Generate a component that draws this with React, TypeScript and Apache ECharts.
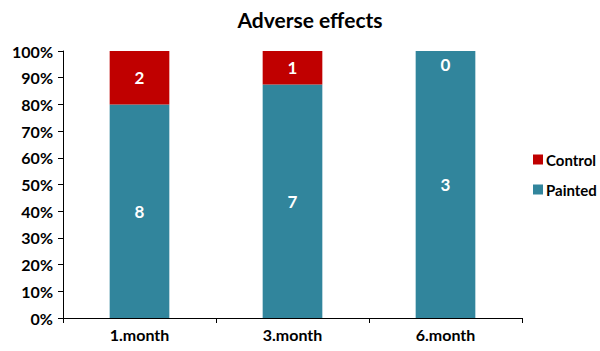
import React, { useEffect, useRef } from "react";
import * as echarts from "echarts";

const categories = ["1.month", "3.month", "6.month"];
const paintedCounts = [8, 7, 3];
const controlCounts = [2, 1, 0];
const yTicks = [0, 10, 20, 30, 40, 50, 60, 70, 80, 90, 100];

const FONT = "Lato, 'Open Sans', sans-serif";

export default function App() {
  const ref = useRef<HTMLDivElement>(null);

  useEffect(() => {
    if (!ref.current) return;
    const chart = echarts.init(ref.current, undefined, { renderer: "svg" });

    const totals = categories.map((_, i) => paintedCounts[i] + controlCounts[i]);
    const pct = (arr: number[]) => arr.map((v, i) => (v / totals[i]) * 100);
    const paintedPct = pct(paintedCounts);
    const controlPct = pct(controlCounts);

    const labelBase = {
      show: true,
      color: "#ffffff",
      fontFamily: FONT,
      fontWeight: "bold" as const,
      fontSize: 17,
    };

    chart.setOption({
      animation: false,
      backgroundColor: "#ffffff",
      title: {
        text: "Adverse effects",
        left: 305,
        textAlign: "center",
        top: 4,
        textStyle: { fontFamily: FONT, fontWeight: "bold", fontSize: 21, color: "#000" },
      },
      legend: {
        orient: "vertical",
        left: 528,
        top: 147,
        itemWidth: 10,
        itemHeight: 10,
        itemGap: 15,
        itemStyle: { borderWidth: 0 },
        icon: "rect",
        data: ["Control", "Painted"],
        textStyle: { fontFamily: FONT, fontWeight: "bold", fontSize: 15, color: "#000", padding: [0, 0, 0, -2] },
      },
      grid: { left: 63, right: 78, top: 51, bottom: 33 },
      xAxis: {
        type: "category",
        data: categories,
        axisLine: { lineStyle: { color: "#000" } },
        axisTick: { show: true, length: 5, lineStyle: { color: "#000" } },
        axisLabel: {
          fontFamily: FONT,
          fontWeight: "bold",
          fontSize: 16,
          color: "#000",
          margin: 8,
        },
      },
      yAxis: {
        type: "value",
        min: yTicks[0],
        max: yTicks[yTicks.length - 1],
        interval: 10,
        splitLine: { show: false },
        axisLine: { show: true, lineStyle: { color: "#000" } },
        axisTick: { show: true, length: 5, lineStyle: { color: "#000" } },
        axisLabel: {
          formatter: "{value}%",
          fontFamily: FONT,
          fontWeight: "bold",
          fontSize: 16,
          color: "#000",
          margin: 10,
        },
      },
      series: [
        {
          name: "Painted",
          type: "bar",
          stack: "total",
          barWidth: "39%",
          itemStyle: { color: "#31859C" },
          label: {
            ...labelBase,
            position: "inside",
            formatter: (p: any) => String(paintedCounts[p.dataIndex]),
          },
          data: paintedPct,
        },
        {
          name: "Control",
          type: "bar",
          stack: "total",
          barWidth: "39%",
          itemStyle: { color: "#C00000" },
          label: {
            ...labelBase,
            position: "inside",
            formatter: (p: any) => String(controlCounts[p.dataIndex]),
          },
          data: controlPct.map((v, i) =>
            controlCounts[i] === 0
              ? { value: v, label: { position: "insideTop", distance: 5 } }
              : v
          ),
        },
      ],
    });

    return () => chart.dispose();
  }, []);

  return (
    <div
      ref={ref}
      style={{ position: "fixed", left: 0, top: 0, width: 600, height: 351 }}
    />
  );
}
